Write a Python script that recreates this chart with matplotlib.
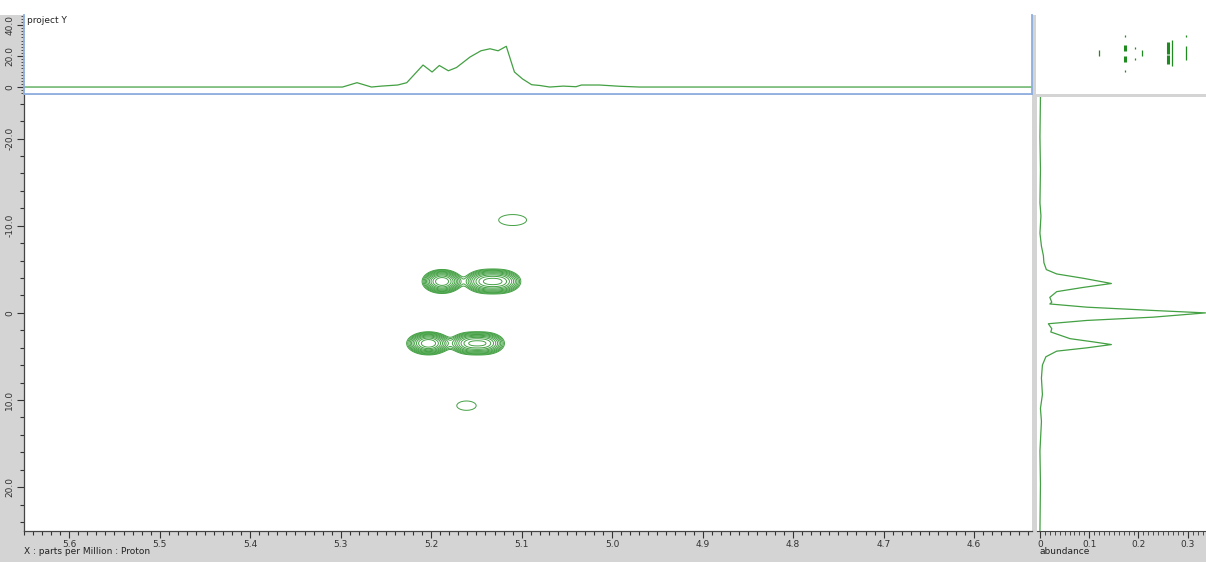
import numpy as np
import matplotlib.pyplot as plt
from matplotlib.patches import Rectangle
from matplotlib.ticker import MultipleLocator

# --- colours ---
bg_grey = "#d4d4d4"
line_green = "#43a043"
frame_blue = "#8eaee0"
tick_col = "#333333"

# --- projection onto the proton axis (ppm, intensity) ---
proj_x_ppm = [5.650, 5.298, 5.282, 5.266, 5.255, 5.237, 5.227, 5.209, 5.199, 5.191,
              5.181, 5.172, 5.157, 5.145, 5.135, 5.126, 5.117, 5.108, 5.099, 5.089,
              5.080, 5.069, 5.054, 5.040, 5.034, 5.014, 4.992, 4.970, 4.536]
proj_x_val = [0.0, 0.0, 2.8, 0.0, 0.6, 1.3, 2.8, 14.2, 9.7, 13.9,
              10.5, 12.6, 19.4, 23.4, 24.7, 23.4, 26.3, 9.7, 5.2, 1.5,
              1.0, 0.0, 0.6, 0.2, 1.3, 1.3, 0.5, 0.0, 0.0]

# --- projection onto the J axis (Hz, abundance) ---
proj_y_hz = [-25.0, -20.4, -16.6, -12.8, -11.3, -9.3, -7.8, -6.7, -5.9, -5.1,
             -4.6, -4.1, -3.5, -3.05, -2.56, -1.9, -1.34, -1.14, -0.77, -0.39,
             -0.11, 0.38, 0.76, 1.14, 1.71, 2.09, 2.86, 3.23, 3.54, 3.92,
             4.3, 4.95, 5.9, 7.4, 9.3, 10.9, 12.4, 15.8, 19.6, 25.0]
proj_y_val = [0.001, 0.0, 0.001, 0.0, 0.002, 0.0, 0.003, 0.007, 0.008, 0.013,
              0.034, 0.088, 0.145, 0.088, 0.034, 0.020, 0.024, 0.020, 0.095, 0.23,
              0.336, 0.23, 0.095, 0.017, 0.024, 0.022, 0.061, 0.108, 0.145, 0.095,
              0.034, 0.012, 0.005, 0.003, 0.005, 0.001, 0.003, 0.0, 0.001, 0.0]

# --- 2D peaks (ppm, Hz, height, width ppm, width Hz) ---
peak_ppm = [5.188, 5.141, 5.123, 5.203, 5.158, 5.140, 5.110, 5.161]
peak_hz = [-3.6, -3.6, -3.6, 3.5, 3.5, 3.5, -10.65, 10.65]
peak_amp = [14.0, 9.0, 9.0, 14.0, 9.0, 9.0, 1.25, 1.25]
peak_wppm = [0.0096, 0.0105, 0.0105, 0.0105, 0.0100, 0.0100, 0.0230, 0.0160]
peak_whz = [0.60, 0.64, 0.64, 0.58, 0.60, 0.60, 0.94, 0.80]
contour_levels = 1.3 ** np.arange(0, 10)

# --- overview thumbnail peaks (column, row start, row end) ---
thumb_col = [63, 89, 89, 89, 89, 99, 99, 106, 132, 132, 136, 150, 150]
thumb_top = [50, 35, 45, 56, 70, 47, 58, 50, 42, 55, 40, 35, 46]
thumb_bot = [56, 37, 51, 62, 72, 49, 60, 56, 54, 64, 66, 37, 60]
thumb_thick = [0, 0, 1, 1, 0, 0, 0, 0, 1, 1, 0, 0, 0]

x_ticks = [5.6, 5.5, 5.4, 5.3, 5.2, 5.1, 5.0, 4.9, 4.8, 4.7, 4.6]
y_ticks = [-20, -10, 0, 10, 20]
y_tick_labels = ["-20.0", "-10.0", "0", "10.0", "20.0"]
top_ticks = [0, 20, 40]
top_tick_labels = ["0", "20.0", "40.0"]
side_ticks = [0, 0.1, 0.2, 0.3]
side_tick_labels = ["0", "0.1", "0.2", "0.3"]

W, H = 1206, 562
fig = plt.figure(figsize=(W / 100, H / 100), dpi=100, facecolor=bg_grey)
fig.patches.append(Rectangle((0, 1 - 15 / H), 1, 15 / H, transform=fig.transFigure,
                             facecolor="white", edgecolor="none", zorder=-1))


def box(x0, y0, x1, y1):
    return [x0 / W, 1 - y1 / H, (x1 - x0) / W, (y1 - y0) / H]


ax = fig.add_axes(box(24, 95, 1032, 530.7))
ax_top = fig.add_axes(box(24, 15, 1032, 94), sharex=ax)
ax_side = fig.add_axes(box(1037, 97, 1206, 530.7))
ax_thumb = fig.add_axes(box(1036, 0, 1206, 94))

# main contour map
xs = np.linspace(5.32, 4.98, 700)
ys = np.linspace(-16, 16, 700)
X, Y = np.meshgrid(xs, ys)
Z = np.zeros_like(X)
for p, j, a, wx, wy in zip(peak_ppm, peak_hz, peak_amp, peak_wppm, peak_whz):
    Z += a * np.exp(-0.5 * ((X - p) / wx) ** 2 - 0.5 * ((Y - j) / wy) ** 2)
ax.contour(X, Y, Z, levels=contour_levels, colors=line_green, linewidths=0.7)

ax.set_xlim(5.650, 4.536)
ax.set_ylim(25, -25)
ax.set_xticks(x_ticks, labels=[f"{v:.1f}" for v in x_ticks])
ax.xaxis.set_minor_locator(MultipleLocator(0.01))
ax.set_yticks(y_ticks, labels=y_tick_labels)
ax.yaxis.set_minor_locator(MultipleLocator(2))
ax.tick_params(which="both", direction="out", colors=tick_col, labelsize=6.5, width=0.8)
ax.tick_params(which="major", length=5, pad=2)
ax.tick_params(which="minor", length=3)
ax.tick_params(axis="y", labelrotation=90)
for lab in ax.get_yticklabels():
    lab.set_va("center")
for s in ["top", "right"]:
    ax.spines[s].set_visible(False)
for s in ["left", "bottom"]:
    ax.spines[s].set_color("#444444")
    ax.spines[s].set_linewidth(0.9)

# projection on top
ax_top.plot(proj_x_ppm, proj_x_val, color=line_green, lw=0.9)
ax_top.set_ylim(-4.5, 46.5)
ax_top.set_yticks(top_ticks, labels=top_tick_labels)
ax_top.yaxis.set_minor_locator(MultipleLocator(2))
ax_top.tick_params(axis="x", which="both", bottom=False, labelbottom=False)
ax_top.tick_params(axis="y", which="both", direction="out", colors=tick_col,
                   labelsize=6.5, labelrotation=90, pad=2)
ax_top.tick_params(axis="y", which="major", length=5)
ax_top.tick_params(axis="y", which="minor", length=2.5)
for lab in ax_top.get_yticklabels():
    lab.set_va("center")
ax_top.spines["top"].set_visible(False)
for s in ["left", "bottom", "right"]:
    ax_top.spines[s].set_color(frame_blue)
    ax_top.spines[s].set_linewidth(1.3)
ax_top.text(0.003, 0.935, "project Y", transform=ax_top.transAxes, fontsize=6.5,
            color="#222222", va="center", ha="left")

# projection on the right
ax_side.plot(proj_y_val, proj_y_hz, color=line_green, lw=0.9)
ax_side.set_ylim(25, -25)
ax_side.set_xlim(-0.006, 0.337)
ax_side.set_xticks(side_ticks, labels=side_tick_labels)
ax_side.xaxis.set_minor_locator(MultipleLocator(0.01))
ax_side.tick_params(axis="y", which="both", left=False, labelleft=False)
ax_side.tick_params(axis="x", which="both", direction="out", colors=tick_col,
                    labelsize=6.5, pad=2)
ax_side.tick_params(axis="x", which="major", length=5)
ax_side.tick_params(axis="x", which="minor", length=3)
for s in ["top", "right", "left"]:
    ax_side.spines[s].set_visible(False)
ax_side.spines["bottom"].set_color("#444444")

# overview thumbnail
ax_thumb.set_xlim(0, 170)
ax_thumb.set_ylim(94, 0)
ax_thumb.set_facecolor("white")
ax_thumb.set_xticks([])
ax_thumb.set_yticks([])
for s in ax_thumb.spines.values():
    s.set_visible(False)
for c, t, b, k in zip(thumb_col, thumb_top, thumb_bot, thumb_thick):
    ax_thumb.vlines(c, t, b, color="#1f8a1f", lw=2.2 if k else 0.9)

fig.text(24 / W, 1 - 552 / H, "X : parts per Million : Proton", fontsize=6.5,
         color="#222222", va="center", ha="left")
fig.text(1040 / W, 1 - 552 / H, "abundance", fontsize=6.5,
         color="#222222", va="center", ha="left")

fig.savefig("out.png", dpi=100, facecolor=bg_grey)
